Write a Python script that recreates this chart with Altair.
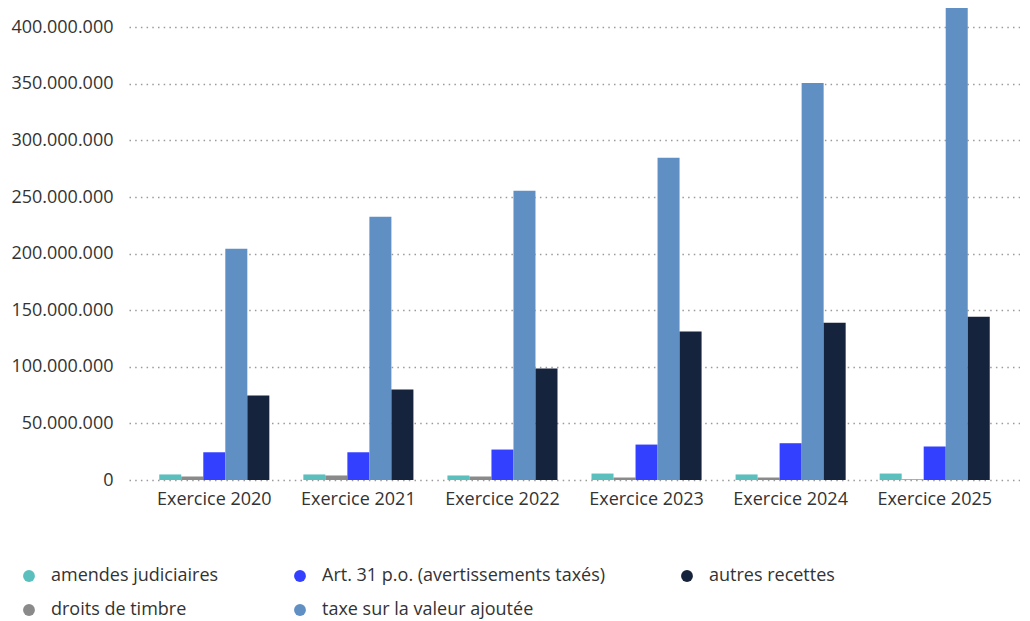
import altair as alt
import pandas as pd

years = ["Exercice 2020", "Exercice 2021", "Exercice 2022", "Exercice 2023", "Exercice 2024", "Exercice 2025"]
amendes = [4.9e6, 4.9e6, 4.0e6, 5.7e6, 4.9e6, 5.7e6]
droits = [3.1e6, 4.0e6, 3.1e6, 2.2e6, 2.2e6, 0.6e6]
art31 = [24.5e6, 24.5e6, 26.9e6, 31.3e6, 32.5e6, 29.6e6]
tva = [204.3e6, 232.6e6, 255.5e6, 284.6e6, 350.8e6, 420.0e6]
autres = [74.6e6, 79.9e6, 98.4e6, 131.2e6, 139.0e6, 144.3e6]

series_names = ["amendes judiciaires", "droits de timbre", "Art. 31 p.o. (avertissements taxés)",
                "taxe sur la valeur ajoutée", "autres recettes"]
series_values = [amendes, droits, art31, tva, autres]
series_colors = ["#5bbfbd", "#8a8a8a", "#3340ff", "#608fc4", "#16233c"]

# legend order (row-major, 3 columns)
legend_order = ["amendes judiciaires", "Art. 31 p.o. (avertissements taxés)", "autres recettes",
                "droits de timbre", "taxe sur la valeur ajoutée"]
legend_colors = [series_colors[series_names.index(n)] for n in legend_order]

rows = []
for name, vals in zip(series_names, series_values):
    for y, v in zip(years, vals):
        rows.append({"exercice": y, "serie": name, "valeur": v})
df = pd.DataFrame(rows)

FONT = "Open Sans"

chart = alt.Chart(df).mark_bar(clip=True).encode(
    x=alt.X("exercice:N", sort=years, title=None,
            scale=alt.Scale(paddingInner=0.236, paddingOuter=0.21),
            axis=alt.Axis(labelAngle=0, domain=False, ticks=False, labelPadding=10,
                          labelFontSize=18, labelColor="#333333", labelFont=FONT)),
    xOffset=alt.XOffset("serie:N", sort=series_names,
                        scale=alt.Scale(paddingInner=0, paddingOuter=0)),
    y=alt.Y("valeur:Q", title=None,
            scale=alt.Scale(domain=[0, 417e6], nice=False),
            axis=alt.Axis(values=[0, 50e6, 100e6, 150e6, 200e6, 250e6, 300e6, 350e6, 400e6],
                          format=",d", domain=False, ticks=False, labelPadding=16,
                          labelFontSize=18, labelColor="#333333", labelFont=FONT,
                          grid=True, gridDash=[1.5, 4.2], gridWidth=1.5, gridColor="#9a9a9a")),
    color=alt.Color("serie:N", title=None,
                    scale=alt.Scale(domain=legend_order, range=legend_colors),
                    legend=alt.Legend(orient="none", legendX=-109, legendY=559, columns=3,
                                      direction="horizontal",
                                      symbolType="circle", symbolSize=140, symbolStrokeWidth=0,
                                      labelOffset=13, labelFontSize=18, labelColor="#333333",
                                      labelFont=FONT, labelLimit=400,
                                      columnPadding=72, rowPadding=16, padding=0)),
).properties(
    width=891, height=472,
    padding={"left": 2, "top": 0, "right": 0, "bottom": 0},
).configure(
    locale={"number": {"decimal": ",", "thousands": ".", "grouping": [3], "currency": ["", "€"]}},
    view=alt.ViewConfig(stroke=None),
)

chart.save("out.html", embed_options={"renderer": "svg", "actions": False})
